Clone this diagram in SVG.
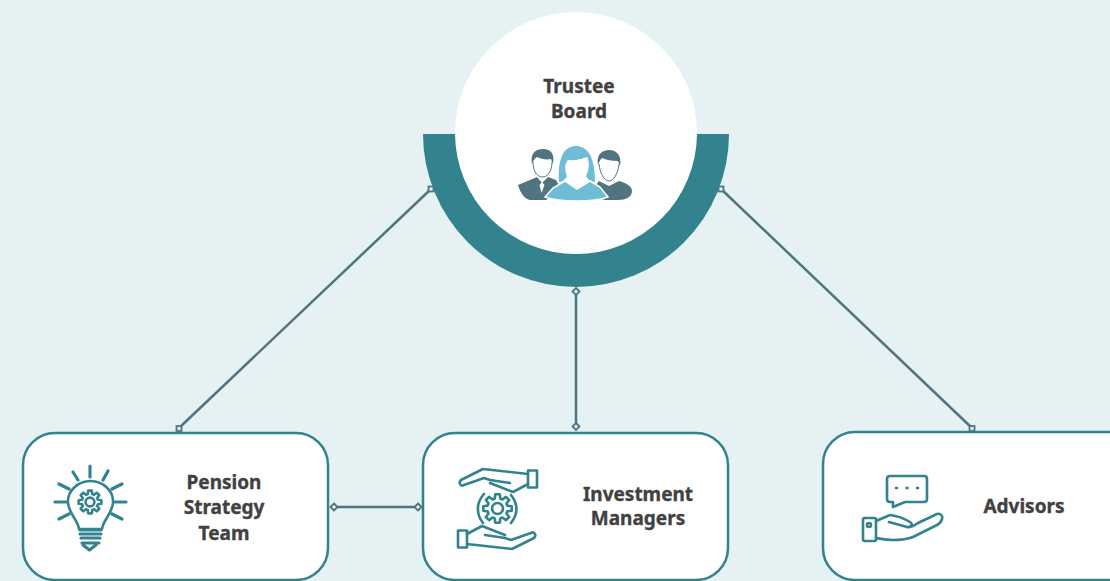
<svg xmlns="http://www.w3.org/2000/svg" width="1110" height="581" viewBox="0 0 1110 581">
<style>
.box{fill:#fff;stroke:#33838f;stroke-width:2.5}
.t{font-family:"Noto Sans","Open Sans",sans-serif;font-weight:700;font-size:19px;fill:#414141;stroke:#414141;stroke-width:.35;text-anchor:middle}
.ln{fill:none;stroke:#507480;stroke-width:2.5}
.m{fill:#e5f1f2;stroke:#507480;stroke-width:1.8}
.ic{fill:none;stroke:#33838f;stroke-width:2.6;stroke-linecap:round;stroke-linejoin:round}
.th{stroke-width:3.2}
</style>
<defs>
<g id="gear"><path d="M-2.26 -7.88L-1.8 -11.36L1.8 -11.36L2.26 -7.88L3.97 -7.17L6.76 -9.3L9.3 -6.76L7.17 -3.97L7.88 -2.26L11.36 -1.8L11.36 1.8L7.88 2.26L7.17 3.97L9.3 6.76L6.76 9.3L3.97 7.17L2.26 7.88L1.8 11.36L-1.8 11.36L-2.26 7.88L-3.97 7.17L-6.76 9.3L-9.3 6.76L-7.17 3.97L-7.88 2.26L-11.36 1.8L-11.36 -1.8L-7.88 -2.26L-7.17 -3.97L-9.3 -6.76L-6.76 -9.3L-3.97 -7.17Z"/><circle r="4.4"/></g>
<g id="hand"><path d="M528 474L483 469 461 480C458 483 461 487 464 485L484 478 490 480 510 483M490 483L513 492 528 484"/><rect x="528" y="470.500" width="9" height="17"/></g>
</defs>
<rect width="1110" height="581" fill="#e5f1f2"/>
<g id="connectors">
<path class="ln" d="M431 189L179 428M576 292V427M721 189L972 428M334 507H418"/>
<rect class="m" x="428.500" y="186.500" width="5" height="5"/>
<rect class="m" x="718.500" y="186.500" width="5" height="5"/>
<rect class="m" x="176.500" y="426" width="5" height="5"/>
<rect class="m" x="969.500" y="426" width="5" height="5"/>
<path class="m" d="M576 288l3.500 3.500-3.500 3.500-3.500-3.500zM576 423l3.500 3.500-3.500 3.500-3.500-3.500zM334 503.500l3.500 3.500-3.500 3.500-3.500-3.500zM418 503.500l3.500 3.500-3.500 3.500-3.500-3.500z"/>
</g>
<g id="trustee-board">
<path d="M423 134H729A153 153 0 0 1 423 134Z" fill="#33838f"/>
<circle cx="576" cy="133" r="121" fill="#fff"/>
<text class="t" x="579" y="93">Trustee</text>
<text class="t" x="579" y="118">Board</text>
<g id="people">
<path d="M518 185C524 182 531 180 537 177L542 183 548 177 556 180 562 190 546 200H530C524 199 520 192 518 185Z" fill="#507480"/>
<path d="M542 182L539.500 185 541.500 193 544.500 185Z" fill="#fff"/>
<path d="M532 164C530 154 535 149 543 149 551 149 555 154 553 164L551 159C546 160 541 159 537 157 534 159 533 161 532 164Z" fill="#507480"/>
<path d="M533 162C533 171 537 177 542.500 177 548 177 552 171 552 162" fill="#fff" stroke="#507480" stroke-width="1"/>
<path d="M599 181L609 186 619 181C626 183 632 186 632 191 632 197 626 200 618 200H604L592 190Z" fill="#507480"/>
<path d="M598 165C596 155 602 150 609 150 617 150 622 156 620 166L618 161C612 161 606 160 602 158 600 160 599 162 598 165Z" fill="#507480"/>
<path d="M599 164C600 173 604 181 609 181 614 181 618 173 619 164" fill="#fff" stroke="#507480" stroke-width="1"/>
<path d="M559 182C558 166 560 146 576 146 592 146 595 166 595 182 591 182 588 180 586 176 589 170 590 163 587 157 580 160 573 161 568 160 564 164 565 171 567 176 565 180 562 182 559 182Z" fill="#6fbcd6"/>
<path d="M568 160C571 161 580 160 587 157 589 165 588 172 585 176 582 180 579 183 576 183 573 183 570 180 568 176 566 171 566 165 568 160Z" fill="#fff"/>
<path d="M565 181L577 189 590 181 600 187 608 197C600 200 590 201 577 201 565 201 553 200 545 197L553 188Z" fill="#6fbcd6" stroke="#fff" stroke-width="1.500"/>
</g>
</g>
<g id="pension-strategy-team">
<rect class="box" x="23" y="433" width="305" height="147" rx="32"/>
<text class="t" x="224" y="489">Pension</text>
<text class="t" x="224" y="514">Strategy</text>
<text class="t" x="224" y="540">Team</text>
<g class="ic">
<path class="th" d="M90 466V477M73 472L78 480M108 471L103 480M59 484L69 489M122 484L112 489M55 502H66M115 502H126M59 519L69 514M122 519L112 514"/>
<path d="M79 529C78 520 69 514 68 503 67 491 78 481 90.500 481 103 481 114 491 113 503 112 514 103 520 102 529Z"/>
<path class="th" d="M80 530H101M80 534H101M81 538H100M82 543H99M83 545L89.500 550 96 545"/>
<use href="#gear" transform="translate(90 502)"/>
</g>
</g>
<g id="investment-managers">
<rect class="box" x="423" y="433" width="305" height="147" rx="32"/>
<text class="t" x="638" y="501">Investment</text>
<text class="t" x="638" y="525">Managers</text>
<g class="ic">
<use href="#hand"/>
<use href="#hand" transform="rotate(180 497.500 509)"/>
<path d="M484 494C476 503 476 514 483 523M511 495C518 504 518 514 511 523"/>
<use href="#gear" transform="translate(497.500 508.500) scale(1.25)" style="stroke-width:2.1"/>
</g>
</g>
<g id="advisors">
<rect class="box" x="823" y="432" width="320" height="148" rx="32"/>
<text class="t" x="1024" y="513">Advisors</text>
<g class="ic">
<path d="M890 476H924Q927 476 927 479V499Q927 502 924 502H905L893 507 893 502H890Q887 502 887 499V479Q887 476 890 476Z"/>
<rect x="863" y="518" width="13" height="23" rx="1.500"/>
<path d="M876 521L890 515C898 516 905 519 910 522 913 524 912 527 907 527L889 522M907 527C911 528 915 525 918 523L937 514C941 513 943 516 942 519 941 522 939 524 937 525L913 537C905 540 898 540 893 540 887 540 882 539 876 538"/>
<path d="M896 488H897M906.500 488H907.500M917 488H918"/>
<circle cx="869" cy="525" r="2"/>
</g>
</g>
</svg>
